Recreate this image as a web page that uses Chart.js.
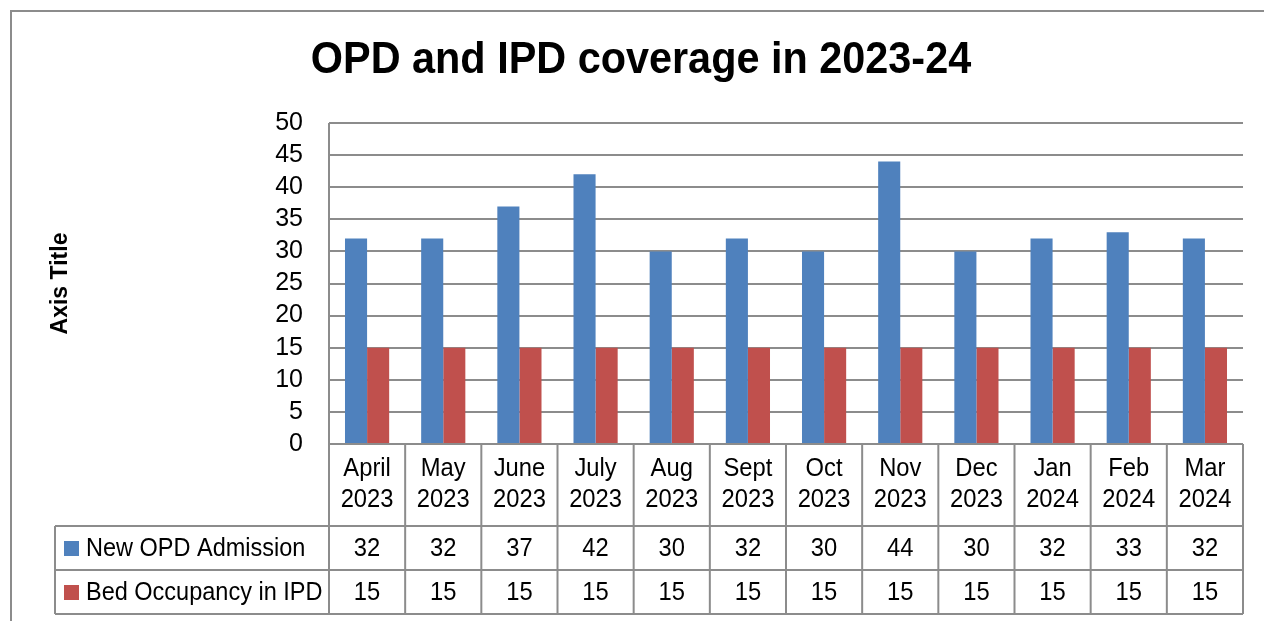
<!DOCTYPE html>
<html>
<head>
<meta charset="utf-8">
<script src="https://cdn.jsdelivr.net/npm/chart.js@4/dist/chart.umd.min.js"></script>
<style>
  html, body { margin: 0; padding: 0; background: #fff; }
  #wrap { width: 1264px; height: 621px; position: relative; }
</style>
</head>
<body>
<div id="wrap"><canvas id="c" width="1264" height="621"></canvas></div>
<script>
const categories = [
  ["April", "2023"], ["May", "2023"], ["June", "2023"], ["July", "2023"],
  ["Aug", "2023"], ["Sept", "2023"], ["Oct", "2023"], ["Nov", "2023"],
  ["Dec", "2023"], ["Jan", "2024"], ["Feb", "2024"], ["Mar", "2024"]
];
const seriesNames = ["New OPD Admission", "Bed Occupancy in IPD"];
const opdValues = [32, 32, 37, 42, 30, 32, 30, 44, 30, 32, 33, 32];
const ipdValues = [15, 15, 15, 15, 15, 15, 15, 15, 15, 15, 15, 15];
const yTicks = [0, 5, 10, 15, 20, 25, 30, 35, 40, 45, 50];
const chartTitle = "OPD and IPD coverage in 2023-24";
const yAxisTitle = "Axis Title";

const FONT = "'Liberation Sans', Arial, sans-serif";
const COLORS = ["#4F81BD", "#C0504D"];
const LINE = "#8C8C8C";

// draw text horizontally condensed (Arial Narrow look)
function narrowText(ctx, text, x, y, align, sx) {
  ctx.save();
  ctx.translate(x, y);
  ctx.scale(sx, 1);
  ctx.textAlign = align;
  ctx.fillText(text, 0, 0);
  ctx.restore();
}

const titlePlugin = {
  id: 'customTitle',
  afterDraw(chart) {
    const ctx = chart.ctx;
    ctx.save();
    ctx.fillStyle = '#000';
    ctx.textBaseline = 'middle';
    ctx.font = "bold 45px " + FONT;
    narrowText(ctx, chartTitle, 641, 61, 'center', 0.92);
    ctx.restore();
  }
};

const tablePlugin = {
  id: 'dataTable',
  afterDraw(chart) {
    const ctx = chart.ctx;
    const x = chart.scales.x;
    const area = chart.chartArea;
    const n = categories.length;
    const half = (x.getPixelForValue(1) - x.getPixelForValue(0)) / 2;
    const top = area.bottom;
    const r1 = 526, r2 = 570, r3 = 614;
    const legLeft = 55;
    const left = x.getPixelForValue(0) - half;
    const right = x.getPixelForValue(n - 1) + half;
    ctx.save();
    // outer frame of the chart
    ctx.strokeStyle = "#8C8C8C";
    ctx.lineWidth = 2;
    ctx.beginPath();
    ctx.moveTo(11, 621); ctx.lineTo(11, 11); ctx.lineTo(1264, 11);
    ctx.stroke();

    ctx.strokeStyle = LINE;
    ctx.lineWidth = 2;
    ctx.beginPath();
    ctx.moveTo(left, top); ctx.lineTo(right, top);
    [r1, r2, r3].forEach(yy => { ctx.moveTo(legLeft, yy); ctx.lineTo(right, yy); });
    ctx.moveTo(legLeft, r1); ctx.lineTo(legLeft, r3);
    for (let i = 0; i <= n; i++) {
      const xx = left + i * 2 * half;
      ctx.moveTo(xx, top); ctx.lineTo(xx, r3);
    }
    ctx.stroke();

    ctx.fillStyle = "#000";
    ctx.font = "25px " + FONT;
    ctx.textBaseline = "middle";
    const series = [opdValues, ipdValues];
    const sx = 0.95;
    for (let i = 0; i < n; i++) {
      const cx = x.getPixelForValue(i);
      narrowText(ctx, categories[i][0], cx, 469, 'center', sx);
      narrowText(ctx, categories[i][1], cx, 500, 'center', sx);
      narrowText(ctx, String(series[0][i]), cx, 549, 'center', sx);
      narrowText(ctx, String(series[1][i]), cx, 593, 'center', sx);
    }
    [r1, r2].forEach((yy, k) => {
      const cy = (yy + [r2, r3][k]) / 2;
      ctx.fillStyle = COLORS[k];
      ctx.fillRect(64, cy - 7, 15, 15);
      ctx.fillStyle = "#000";
      narrowText(ctx, seriesNames[k], 86, cy + 1, 'left', 0.94);
    });
    ctx.restore();
  }
};

const plotBorder = {
  id: 'plotBorder',
  beforeDatasetsDraw(chart) {
    const ctx = chart.ctx, a = chart.chartArea;
    ctx.save();
    ctx.strokeStyle = LINE;
    ctx.lineWidth = 2;
    ctx.beginPath();
    ctx.moveTo(a.left, a.top); ctx.lineTo(a.left, a.bottom);
    ctx.stroke();
    ctx.restore();
  }
};

new Chart(document.getElementById('c'), {
  type: 'bar',
  data: {
    labels: categories,
    datasets: [
      { label: seriesNames[0], data: opdValues, backgroundColor: COLORS[0] },
      { label: seriesNames[1], data: ipdValues, backgroundColor: COLORS[1] }
    ]
  },
  options: {
    responsive: false,
    animation: false,
    devicePixelRatio: 1,
    layout: { padding: { left: 0, right: 21, top: 123, bottom: 177 } },
    datasets: { bar: { categoryPercentage: 0.58, barPercentage: 1.0 } },
    plugins: {
      legend: { display: false },
      tooltip: { enabled: false },
      title: { display: false }
    },
    scales: {
      x: {
        display: false,
        grid: { display: false }
      },
      y: {
        min: 0, max: 50,
        afterBuildTicks(scale) { scale.ticks = yTicks.map(v => ({ value: v })); },
        afterFit(scale) { scale.width = 329; },
        border: { display: false },
        grid: { color: LINE, lineWidth: 2, drawTicks: false },
        ticks: {
          color: '#000',
          padding: 26,
          autoSkip: false,
          font: { family: FONT, size: 25 }
        },
        title: {
          display: true,
          text: yAxisTitle,
          color: '#000',
          font: { family: FONT, size: 23, weight: 'bold', lineHeight: 1.2 },
          padding: { top: 47, bottom: 0 }
        }
      }
    }
  },
  plugins: [plotBorder, tablePlugin, titlePlugin]
});
</script>
</body>
</html>
